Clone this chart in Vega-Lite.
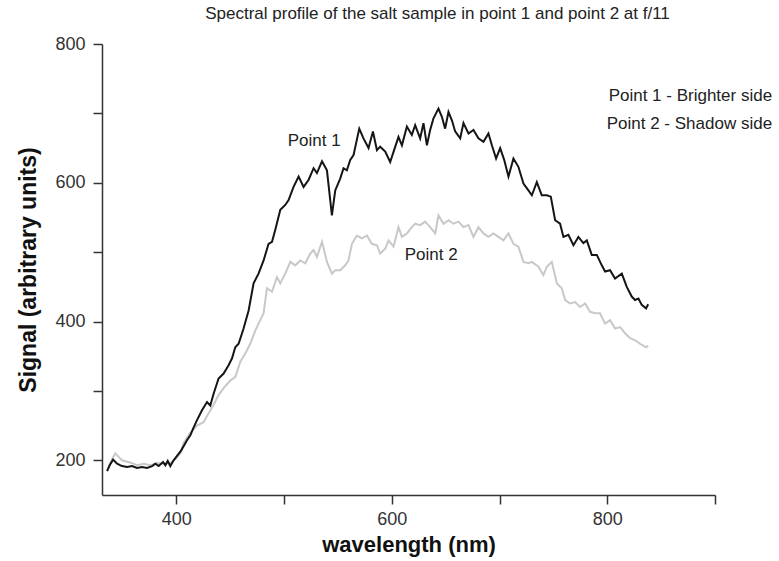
{
  "$schema": "https://vega.github.io/schema/vega-lite/v6.json",
  "autosize": "none",
  "width": 613,
  "height": 451,
  "padding": {"left": 102, "top": 44, "right": 64, "bottom": 66},
  "background": "white",
  "config": {
    "view": {"stroke": null},
    "font": "Liberation Sans",
    "axis": {
      "grid": false,
      "domainColor": "#333333",
      "domainWidth": 1.5,
      "tickColor": "#333333",
      "tickWidth": 1.5,
      "tickSize": 9,
      "labelFont": "Liberation Sans",
      "labelFontSize": 18,
      "labelColor": "#333333",
      "titleFont": "Liberation Sans",
      "titleFontWeight": "bold",
      "titleColor": "#111111"
    }
  },
  "title": {
    "text": "Spectral profile of the salt sample in point 1 and point 2 at f/11",
    "font": "Liberation Sans",
    "fontSize": 17,
    "fontWeight": "normal",
    "color": "#222222",
    "anchor": "middle",
    "dx": 29,
    "offset": 12
  },
  "datasets": {
    "spectra": [
      {"series": "Point 2", "wl": 337.2, "sig": 190}, {"series": "Point 2", "wl": 340.4, "sig": 202}, {"series": "Point 2", "wl": 343.4, "sig": 210}, {"series": "Point 2", "wl": 346.5, "sig": 205}, {"series": "Point 2", "wl": 349.6, "sig": 200}, {"series": "Point 2", "wl": 354.3, "sig": 198}, {"series": "Point 2", "wl": 358.9, "sig": 196}, {"series": "Point 2", "wl": 363.5, "sig": 193}, {"series": "Point 2", "wl": 369.7, "sig": 195}, {"series": "Point 2", "wl": 375.9, "sig": 193}, {"series": "Point 2", "wl": 382.1, "sig": 196}, {"series": "Point 2", "wl": 388.2, "sig": 195}, {"series": "Point 2", "wl": 394.4, "sig": 196}, {"series": "Point 2", "wl": 399.1, "sig": 202}, {"series": "Point 2", "wl": 403.7, "sig": 210}, {"series": "Point 2", "wl": 406.8, "sig": 225}, {"series": "Point 2", "wl": 413, "sig": 240}, {"series": "Point 2", "wl": 419.2, "sig": 250}, {"series": "Point 2", "wl": 425.3, "sig": 255}, {"series": "Point 2", "wl": 430, "sig": 268}, {"series": "Point 2", "wl": 434.6, "sig": 280}, {"series": "Point 2", "wl": 439.2, "sig": 294}, {"series": "Point 2", "wl": 443.9, "sig": 304}, {"series": "Point 2", "wl": 450.1, "sig": 315}, {"series": "Point 2", "wl": 454.7, "sig": 320}, {"series": "Point 2", "wl": 459.4, "sig": 342}, {"series": "Point 2", "wl": 464, "sig": 354}, {"series": "Point 2", "wl": 468.6, "sig": 368}, {"series": "Point 2", "wl": 473.3, "sig": 387}, {"series": "Point 2", "wl": 476.3, "sig": 397}, {"series": "Point 2", "wl": 481, "sig": 412}, {"series": "Point 2", "wl": 484.1, "sig": 448}, {"series": "Point 2", "wl": 488.8, "sig": 443}, {"series": "Point 2", "wl": 493.4, "sig": 464}, {"series": "Point 2", "wl": 496.5, "sig": 455}, {"series": "Point 2", "wl": 501.1, "sig": 469}, {"series": "Point 2", "wl": 505.8, "sig": 486}, {"series": "Point 2", "wl": 510.4, "sig": 481}, {"series": "Point 2", "wl": 515, "sig": 488}, {"series": "Point 2", "wl": 519.7, "sig": 484}, {"series": "Point 2", "wl": 524.3, "sig": 498}, {"series": "Point 2", "wl": 527.4, "sig": 503}, {"series": "Point 2", "wl": 530.5, "sig": 493}, {"series": "Point 2", "wl": 535.2, "sig": 515}, {"series": "Point 2", "wl": 539.8, "sig": 486}, {"series": "Point 2", "wl": 544.4, "sig": 469}, {"series": "Point 2", "wl": 547.5, "sig": 474}, {"series": "Point 2", "wl": 552.1, "sig": 474}, {"series": "Point 2", "wl": 556.8, "sig": 481}, {"series": "Point 2", "wl": 559.8, "sig": 488}, {"series": "Point 2", "wl": 563, "sig": 512}, {"series": "Point 2", "wl": 567.6, "sig": 524}, {"series": "Point 2", "wl": 572.3, "sig": 520}, {"series": "Point 2", "wl": 576.9, "sig": 524}, {"series": "Point 2", "wl": 581.5, "sig": 512}, {"series": "Point 2", "wl": 586.2, "sig": 510}, {"series": "Point 2", "wl": 589.2, "sig": 498}, {"series": "Point 2", "wl": 593.9, "sig": 505}, {"series": "Point 2", "wl": 597, "sig": 517}, {"series": "Point 2", "wl": 601.6, "sig": 508}, {"series": "Point 2", "wl": 606.2, "sig": 536}, {"series": "Point 2", "wl": 609.4, "sig": 522}, {"series": "Point 2", "wl": 614, "sig": 527}, {"series": "Point 2", "wl": 618.6, "sig": 536}, {"series": "Point 2", "wl": 621.7, "sig": 541}, {"series": "Point 2", "wl": 626.3, "sig": 539}, {"series": "Point 2", "wl": 630.9, "sig": 544}, {"series": "Point 2", "wl": 635.6, "sig": 536}, {"series": "Point 2", "wl": 640.3, "sig": 527}, {"series": "Point 2", "wl": 643.3, "sig": 553}, {"series": "Point 2", "wl": 648, "sig": 541}, {"series": "Point 2", "wl": 652.6, "sig": 546}, {"series": "Point 2", "wl": 657.2, "sig": 541}, {"series": "Point 2", "wl": 661.9, "sig": 544}, {"series": "Point 2", "wl": 666.5, "sig": 536}, {"series": "Point 2", "wl": 671.2, "sig": 539}, {"series": "Point 2", "wl": 675.8, "sig": 522}, {"series": "Point 2", "wl": 680.4, "sig": 536}, {"series": "Point 2", "wl": 685.1, "sig": 527}, {"series": "Point 2", "wl": 689.7, "sig": 522}, {"series": "Point 2", "wl": 694.3, "sig": 527}, {"series": "Point 2", "wl": 699, "sig": 522}, {"series": "Point 2", "wl": 703.6, "sig": 517}, {"series": "Point 2", "wl": 708.3, "sig": 527}, {"series": "Point 2", "wl": 712.9, "sig": 512}, {"series": "Point 2", "wl": 717.5, "sig": 508}, {"series": "Point 2", "wl": 722.2, "sig": 486}, {"series": "Point 2", "wl": 726.8, "sig": 484}, {"series": "Point 2", "wl": 730, "sig": 486}, {"series": "Point 2", "wl": 736.1, "sig": 479}, {"series": "Point 2", "wl": 740.7, "sig": 467}, {"series": "Point 2", "wl": 743.9, "sig": 479}, {"series": "Point 2", "wl": 748.5, "sig": 486}, {"series": "Point 2", "wl": 753.2, "sig": 455}, {"series": "Point 2", "wl": 757.8, "sig": 448}, {"series": "Point 2", "wl": 760.9, "sig": 431}, {"series": "Point 2", "wl": 765.5, "sig": 426}, {"series": "Point 2", "wl": 770.1, "sig": 428}, {"series": "Point 2", "wl": 774.8, "sig": 421}, {"series": "Point 2", "wl": 779.4, "sig": 426}, {"series": "Point 2", "wl": 784, "sig": 414}, {"series": "Point 2", "wl": 788.7, "sig": 412}, {"series": "Point 2", "wl": 793.3, "sig": 412}, {"series": "Point 2", "wl": 797.9, "sig": 397}, {"series": "Point 2", "wl": 802.6, "sig": 402}, {"series": "Point 2", "wl": 807.2, "sig": 390}, {"series": "Point 2", "wl": 811.9, "sig": 392}, {"series": "Point 2", "wl": 816.5, "sig": 383}, {"series": "Point 2", "wl": 821.2, "sig": 376}, {"series": "Point 2", "wl": 825.8, "sig": 373}, {"series": "Point 2", "wl": 830.4, "sig": 368}, {"series": "Point 2", "wl": 836, "sig": 363}, {"series": "Point 2", "wl": 838, "sig": 365},
      {"series": "Point 1", "wl": 335.7, "sig": 184.5}, {"series": "Point 1", "wl": 338.1, "sig": 192.8}, {"series": "Point 1", "wl": 341.3, "sig": 201}, {"series": "Point 1", "wl": 345, "sig": 195.2}, {"series": "Point 1", "wl": 349.6, "sig": 191.7}, {"series": "Point 1", "wl": 354.3, "sig": 190.3}, {"series": "Point 1", "wl": 358.9, "sig": 191.7}, {"series": "Point 1", "wl": 363.5, "sig": 188.9}, {"series": "Point 1", "wl": 368.2, "sig": 190.3}, {"series": "Point 1", "wl": 372.8, "sig": 188.9}, {"series": "Point 1", "wl": 377.5, "sig": 191.7}, {"series": "Point 1", "wl": 380.5, "sig": 195.2}, {"series": "Point 1", "wl": 383.6, "sig": 191.7}, {"series": "Point 1", "wl": 387.7, "sig": 197.5}, {"series": "Point 1", "wl": 389.8, "sig": 192.8}, {"series": "Point 1", "wl": 392, "sig": 199}, {"series": "Point 1", "wl": 394.4, "sig": 191.7}, {"series": "Point 1", "wl": 397.5, "sig": 200}, {"series": "Point 1", "wl": 401, "sig": 207}, {"series": "Point 1", "wl": 404.4, "sig": 214}, {"series": "Point 1", "wl": 407.4, "sig": 222}, {"series": "Point 1", "wl": 409.9, "sig": 229}, {"series": "Point 1", "wl": 413, "sig": 236}, {"series": "Point 1", "wl": 416, "sig": 247}, {"series": "Point 1", "wl": 419.2, "sig": 258}, {"series": "Point 1", "wl": 423.8, "sig": 272}, {"series": "Point 1", "wl": 428.5, "sig": 284}, {"series": "Point 1", "wl": 431.5, "sig": 279}, {"series": "Point 1", "wl": 434.6, "sig": 296}, {"series": "Point 1", "wl": 439.2, "sig": 318}, {"series": "Point 1", "wl": 443.9, "sig": 325}, {"series": "Point 1", "wl": 448.5, "sig": 337}, {"series": "Point 1", "wl": 451.7, "sig": 347}, {"series": "Point 1", "wl": 454.7, "sig": 363}, {"series": "Point 1", "wl": 457.8, "sig": 368}, {"series": "Point 1", "wl": 462.4, "sig": 390}, {"series": "Point 1", "wl": 467.1, "sig": 416}, {"series": "Point 1", "wl": 471.7, "sig": 455}, {"series": "Point 1", "wl": 476.3, "sig": 469}, {"series": "Point 1", "wl": 481, "sig": 488}, {"series": "Point 1", "wl": 485.6, "sig": 512}, {"series": "Point 1", "wl": 488.8, "sig": 515}, {"series": "Point 1", "wl": 491.8, "sig": 532}, {"series": "Point 1", "wl": 496.5, "sig": 561}, {"series": "Point 1", "wl": 501.1, "sig": 568}, {"series": "Point 1", "wl": 504.2, "sig": 575}, {"series": "Point 1", "wl": 508.8, "sig": 594}, {"series": "Point 1", "wl": 513.5, "sig": 609}, {"series": "Point 1", "wl": 518.1, "sig": 594}, {"series": "Point 1", "wl": 522.7, "sig": 604}, {"series": "Point 1", "wl": 527.4, "sig": 621}, {"series": "Point 1", "wl": 530.5, "sig": 614}, {"series": "Point 1", "wl": 535.2, "sig": 631}, {"series": "Point 1", "wl": 539.8, "sig": 618}, {"series": "Point 1", "wl": 544.4, "sig": 553}, {"series": "Point 1", "wl": 547.5, "sig": 589}, {"series": "Point 1", "wl": 552.1, "sig": 606}, {"series": "Point 1", "wl": 555.2, "sig": 621}, {"series": "Point 1", "wl": 558.3, "sig": 618}, {"series": "Point 1", "wl": 561.4, "sig": 633}, {"series": "Point 1", "wl": 564.5, "sig": 640}, {"series": "Point 1", "wl": 569.8, "sig": 678}, {"series": "Point 1", "wl": 573.7, "sig": 664}, {"series": "Point 1", "wl": 578.4, "sig": 650}, {"series": "Point 1", "wl": 582.5, "sig": 674}, {"series": "Point 1", "wl": 586.2, "sig": 647}, {"series": "Point 1", "wl": 589.2, "sig": 652}, {"series": "Point 1", "wl": 593.9, "sig": 645}, {"series": "Point 1", "wl": 598.5, "sig": 630}, {"series": "Point 1", "wl": 603.2, "sig": 652}, {"series": "Point 1", "wl": 606.2, "sig": 666}, {"series": "Point 1", "wl": 609.4, "sig": 654}, {"series": "Point 1", "wl": 614, "sig": 681}, {"series": "Point 1", "wl": 618.6, "sig": 669}, {"series": "Point 1", "wl": 621.7, "sig": 683}, {"series": "Point 1", "wl": 626.3, "sig": 664}, {"series": "Point 1", "wl": 629.4, "sig": 686}, {"series": "Point 1", "wl": 632.6, "sig": 654}, {"series": "Point 1", "wl": 635.6, "sig": 676}, {"series": "Point 1", "wl": 638.7, "sig": 693}, {"series": "Point 1", "wl": 643.3, "sig": 707}, {"series": "Point 1", "wl": 646.5, "sig": 695}, {"series": "Point 1", "wl": 649.5, "sig": 678}, {"series": "Point 1", "wl": 652.6, "sig": 702}, {"series": "Point 1", "wl": 655.8, "sig": 690}, {"series": "Point 1", "wl": 658.8, "sig": 674}, {"series": "Point 1", "wl": 663.5, "sig": 664}, {"series": "Point 1", "wl": 666.5, "sig": 686}, {"series": "Point 1", "wl": 671.2, "sig": 671}, {"series": "Point 1", "wl": 675.8, "sig": 676}, {"series": "Point 1", "wl": 680.4, "sig": 664}, {"series": "Point 1", "wl": 685.1, "sig": 659}, {"series": "Point 1", "wl": 689.7, "sig": 671}, {"series": "Point 1", "wl": 692.9, "sig": 654}, {"series": "Point 1", "wl": 696.8, "sig": 635}, {"series": "Point 1", "wl": 700.6, "sig": 650}, {"series": "Point 1", "wl": 704.3, "sig": 633}, {"series": "Point 1", "wl": 708.3, "sig": 609}, {"series": "Point 1", "wl": 712.9, "sig": 635}, {"series": "Point 1", "wl": 717.5, "sig": 623}, {"series": "Point 1", "wl": 722.2, "sig": 599}, {"series": "Point 1", "wl": 726.8, "sig": 589}, {"series": "Point 1", "wl": 730, "sig": 582}, {"series": "Point 1", "wl": 734.6, "sig": 601}, {"series": "Point 1", "wl": 739.2, "sig": 582}, {"series": "Point 1", "wl": 743.9, "sig": 582}, {"series": "Point 1", "wl": 747.6, "sig": 580}, {"series": "Point 1", "wl": 751.6, "sig": 546}, {"series": "Point 1", "wl": 756.2, "sig": 541}, {"series": "Point 1", "wl": 759.3, "sig": 522}, {"series": "Point 1", "wl": 763.9, "sig": 525}, {"series": "Point 1", "wl": 768.6, "sig": 510}, {"series": "Point 1", "wl": 773.2, "sig": 522}, {"series": "Point 1", "wl": 777.8, "sig": 513}, {"series": "Point 1", "wl": 781, "sig": 517}, {"series": "Point 1", "wl": 785.6, "sig": 496}, {"series": "Point 1", "wl": 790.3, "sig": 496}, {"series": "Point 1", "wl": 794.9, "sig": 481}, {"series": "Point 1", "wl": 798, "sig": 472}, {"series": "Point 1", "wl": 802.6, "sig": 474}, {"series": "Point 1", "wl": 807.2, "sig": 462}, {"series": "Point 1", "wl": 813.5, "sig": 469}, {"series": "Point 1", "wl": 818.1, "sig": 450}, {"series": "Point 1", "wl": 822.7, "sig": 436}, {"series": "Point 1", "wl": 825.8, "sig": 431}, {"series": "Point 1", "wl": 828.9, "sig": 433}, {"series": "Point 1", "wl": 832, "sig": 424}, {"series": "Point 1", "wl": 836, "sig": 419}, {"series": "Point 1", "wl": 838, "sig": 425}
    ],
    "notes": [
      {"label": "Point 1", "wl": 528, "sig": 660, "kind": "curve"},
      {"label": "Point 2", "wl": 636.5, "sig": 496, "kind": "curve"},
      {"label": "Point 1 - Brighter side", "wl": 953, "sig": 725, "kind": "key"},
      {"label": "Point 2 - Shadow side", "wl": 953, "sig": 684, "kind": "key"}
    ]
  },
  "layer": [
    {
      "data": {"name": "spectra"},
      "transform": [{"filter": "datum.series === 'Point 2'"}],
      "mark": {"type": "line", "color": "#c8c8c8", "strokeWidth": 2},
      "encoding": {
        "x": {
          "field": "wl", "type": "quantitative",
          "scale": {"domain": [331, 900], "nice": false, "zero": false},
          "axis": {
            "title": "wavelength (nm)",
            "titleFontSize": 22,
            "titlePadding": 6,
            "values": [400, 500, 600, 700, 800, 900],
            "labelExpr": "datum.value % 200 == 0 && datum.value < 900 ? datum.label : ''",
            "labelPadding": 6
          }
        },
        "y": {
          "field": "sig", "type": "quantitative",
          "scale": {"domain": [150, 800], "nice": false, "zero": false},
          "axis": {
            "title": "Signal (arbitrary units)",
            "titleFontSize": 23,
            "titlePadding": 14,
            "values": [200, 300, 400, 500, 600, 700, 800],
            "labelExpr": "datum.value % 200 == 0 ? datum.label : ''",
            "labelPadding": 8
          }
        }
      }
    },
    {
      "data": {"name": "spectra"},
      "transform": [{"filter": "datum.series === 'Point 1'"}],
      "mark": {"type": "line", "color": "#151515", "strokeWidth": 2},
      "encoding": {
        "x": {"field": "wl", "type": "quantitative"},
        "y": {"field": "sig", "type": "quantitative"}
      }
    },
    {
      "data": {"name": "notes"},
      "transform": [{"filter": "datum.kind === 'curve'"}],
      "mark": {"type": "text", "fontSize": 17, "color": "#222222", "align": "center", "baseline": "middle"},
      "encoding": {
        "x": {"field": "wl", "type": "quantitative"},
        "y": {"field": "sig", "type": "quantitative"},
        "text": {"field": "label"}
      }
    },
    {
      "data": {"name": "notes"},
      "transform": [{"filter": "datum.kind === 'key'"}],
      "mark": {"type": "text", "fontSize": 17, "color": "#222222", "align": "right", "baseline": "middle"},
      "encoding": {
        "x": {"field": "wl", "type": "quantitative"},
        "y": {"field": "sig", "type": "quantitative"},
        "text": {"field": "label"}
      }
    }
  ]
}
